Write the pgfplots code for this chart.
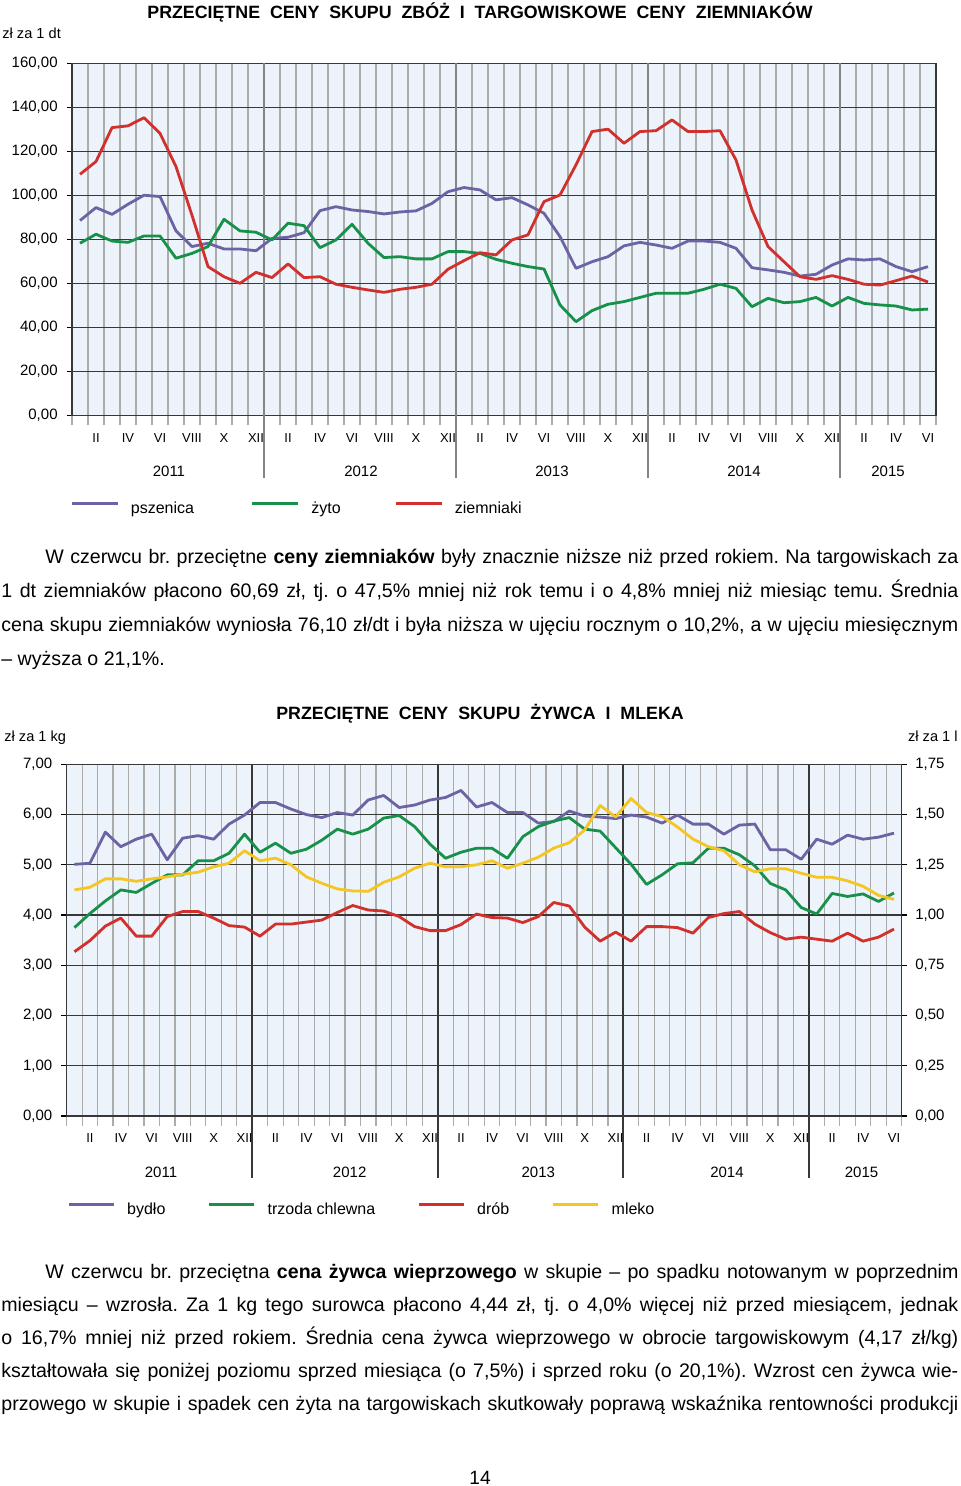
\documentclass[border=0pt]{standalone}
\usepackage{fontspec}
\setmainfont{Liberation Sans}
\setsansfont{Liberation Sans}
\usepackage{pgfplots}
\usepackage{pgfplotstable}
\pgfplotsset{compat=1.18}
\frenchspacing

\definecolor{bgblue}{HTML}{EDF3FA}
\definecolor{cpurple}{HTML}{6C63A5}
\definecolor{cgreen}{HTML}{17914A}
\definecolor{cred}{HTML}{D1302C}
\definecolor{cyellow}{HTML}{F3C623}
\definecolor{gridk}{HTML}{383838}
\definecolor{gridv}{HTML}{ABABAB}
\definecolor{yeargray}{HTML}{858585}

\newcommand\sz[1]{\fontsize{#1}{#1}\selectfont}

% ceny zboz i ziemniakow, zl za 1 dt, I 2011 - VI 2015
\pgfplotstableread{
m psz zyto ziem
0 88.6 78.3 109.6
1 94.5 82.4 115.4
2 91.4 79.3 130.8
3 96.0 78.7 131.6
4 100.1 81.6 135.3
5 99.5 81.6 128.2
6 83.9 71.5 113.1
7 76.8 73.7 91.0
8 78.3 76.8 67.7
9 75.7 89.2 63.1
10 75.7 83.9 60.1
11 74.9 83.3 65.1
12 80.5 79.8 62.7
13 81.0 87.4 68.9
14 83.1 86.3 62.7
15 93.1 76.3 63.1
16 94.9 79.8 59.7
17 93.4 86.9 58.3
18 92.7 78.3 57.1
19 91.6 71.8 56.0
20 92.5 72.2 57.4
21 93.0 71.2 58.3
22 96.4 71.2 59.7
23 101.7 74.5 66.5
24 103.6 74.5 70.4
25 102.5 73.7 74.0
26 98.0 71.0 73.0
27 99.0 69.2 79.8
28 95.7 67.7 82.1
29 91.9 66.6 97.2
30 81.3 50.3 100.2
31 66.9 42.7 113.9
32 69.9 47.7 129.0
33 72.2 50.6 130.1
34 77.1 51.8 123.7
35 78.7 53.7 129.0
36 77.5 55.6 129.4
37 76.0 55.6 134.3
38 79.3 55.6 129.0
39 79.3 57.4 129.0
40 78.7 59.7 129.4
41 76.0 57.8 116.1
42 67.2 49.5 93.4
43 66.2 53.3 76.8
44 65.1 51.3 69.9
45 63.4 51.8 63.1
46 64.2 53.7 61.9
47 68.4 49.8 63.6
48 71.2 53.7 61.9
49 70.7 51.0 59.7
50 71.2 50.3 59.3
51 67.7 49.8 61.3
52 65.4 48.0 63.4
53 67.7 48.4 60.7
}\zboza

% zywiec (zl za 1 kg) i mleko (zl za 1 l, prawa os)
\pgfplotstableread{
m byd trz drob mle
0 5.01 3.75 3.27 1.125
1 5.03 4.03 3.49 1.138
2 5.65 4.28 3.78 1.180
3 5.36 4.50 3.94 1.180
4 5.51 4.45 3.58 1.168
5 5.61 4.63 3.58 1.180
6 5.10 4.80 3.97 1.190
7 5.53 4.80 4.07 1.203
8 5.58 5.08 4.07 1.213
9 5.51 5.08 3.94 1.240
10 5.81 5.23 3.79 1.258
11 5.99 5.61 3.76 1.320
12 6.24 5.25 3.58 1.270
13 6.24 5.43 3.82 1.283
14 6.11 5.23 3.82 1.250
15 6.00 5.31 3.86 1.190
16 5.94 5.49 3.90 1.158
17 6.04 5.71 4.05 1.130
18 5.99 5.61 4.19 1.120
19 6.29 5.71 4.10 1.118
20 6.38 5.93 4.08 1.163
21 6.14 5.98 3.97 1.190
22 6.19 5.76 3.77 1.233
23 6.29 5.41 3.69 1.258
24 6.34 5.13 3.69 1.240
25 6.48 5.25 3.81 1.240
26 6.15 5.33 4.02 1.250
27 6.24 5.33 3.95 1.270
28 6.04 5.13 3.94 1.233
29 6.04 5.56 3.85 1.258
30 5.83 5.76 3.97 1.288
31 5.86 5.87 4.25 1.333
32 6.07 5.94 4.18 1.360
33 5.97 5.71 3.76 1.423
34 5.95 5.67 3.48 1.545
35 5.92 5.34 3.66 1.488
36 5.99 5.01 3.48 1.580
37 5.95 4.61 3.77 1.510
38 5.83 4.80 3.77 1.490
39 5.99 5.02 3.75 1.438
40 5.81 5.04 3.64 1.378
41 5.81 5.33 3.95 1.340
42 5.61 5.33 4.03 1.320
43 5.79 5.20 4.07 1.250
44 5.81 4.98 3.82 1.215
45 5.30 4.63 3.65 1.230
46 5.30 4.50 3.52 1.230
47 5.11 4.15 3.56 1.208
48 5.51 4.02 3.52 1.188
49 5.41 4.43 3.48 1.188
50 5.59 4.37 3.64 1.170
51 5.51 4.42 3.48 1.143
52 5.55 4.27 3.56 1.098
53 5.63 4.44 3.72 1.078
}\zywiec

\tikzset{yearlab/.style={font=\sz{7.5}}}

\pgfplotsset{
  base/.style={
    scale only axis, anchor=south west, clip=false,
    xmin=-0.5, xmax=53.5,
    axis background/.style={fill=bgblue},
    xtick={1,3,...,53},
    xticklabels={II,IV,VI,VIII,X,XII,II,IV,VI,VIII,X,XII,II,IV,VI,VIII,X,XII,II,IV,VI,VIII,X,XII,II,IV,VI},
    minor xtick={-0.5,0.5,...,53.5},
    xminorgrids, ymajorgrids,
    minor grid style={gridv, line width=0.6pt},
    major grid style={gridk, line width=0.6pt},
    tick align=outside, major tick length=2.7pt, minor tick length=4.8pt,
    major x tick style={draw=none},
    minor x tick style={gridv, line width=0.6pt},
    ytick style={black, line width=0.6pt},
    xtick pos=bottom, ytick pos=left,
    axis line style={gridk, line width=0.7pt},
    tick label style={font=\sz{7.5}},
    xticklabel style={font=\sz{6.5}, inner sep=0pt, yshift=-5.8pt},
    yticklabel style={inner sep=0pt, xshift=-4.3pt,
      /pgf/number format/fixed, /pgf/number format/fixed zerofill,
      /pgf/number format/precision=2, /pgf/number format/use comma,
      /pgf/number format/assume math mode=true},
    scaled y ticks=false,
    legend style={draw=none, fill=none, inner sep=0pt, outer sep=0pt,
      nodes={inner sep=0pt, outer sep=0pt}, column sep=0pt, font=\sz{8}},
    legend cell align=left,
  },
  psz/.style={cpurple, line width=1.4pt, line join=round},
  zyt/.style={cgreen, line width=1.4pt, line join=round},
  zie/.style={cred, line width=1.4pt, line join=round},
  mlk/.style={cyellow, line width=1.4pt, line join=round},
}

\begin{document}
\begin{tikzpicture}
\useasboundingbox (0,0) rectangle (480pt,-743pt);

\node[anchor=base, font=\bfseries\sz{8.9}] at (240pt,-9.2pt)
  {PRZECIĘTNE\ \ CENY\ \ SKUPU\ \ ZBÓŻ\ \ I\ \ TARGOWISKOWE\ \ CENY\ \ ZIEMNIAKÓW};
\node[anchor=base west, font=\sz{7.3}, inner sep=0pt] at (1pt,-19.5pt) {zł za 1 dt};

\begin{axis}[base,
  width=432pt, height=176.2pt, at={(36pt,-207.85pt)},
  ymin=0, ymax=160, ytick={0,20,...,160},
  extra x ticks={11.5,23.5,35.5,47.5}, extra x tick labels={},
  extra x tick style={grid=major, major grid style={yeargray, line width=0.8pt}},
  legend columns=3,
  legend style={at={(0,-0.265)}, anchor=west, xshift=-1pt},
  legend image code/.code={\draw[#1, line width=1.5pt] (0pt,0.26em) -- (23pt,0.26em); \path (29pt,0pt);},
]
\addplot[psz] table[x=m, y=psz] {\zboza};
\addlegendentry{\makebox[59.8pt][l]{pszenica}}
\addplot[zyt] table[x=m, y=zyto] {\zboza};
\addlegendentry{\makebox[41.3pt][l]{żyto}}
\addplot[zie] table[x=m, y=ziem] {\zboza};
\addlegendentry{ziemniaki}
\pgfplotsinvokeforeach{11.5,23.5,35.5,47.5}{
  \draw[yeargray, line width=0.8pt] (axis cs:#1,0) -- (axis cs:#1,-28.2);
}
\node[yearlab] at (axis cs:5.56,-25.1) {2011};
\node[yearlab] at (axis cs:17.56,-25.1) {2012};
\node[yearlab] at (axis cs:29.5,-25.1) {2013};
\node[yearlab] at (axis cs:41.5,-25.4) {2014};
\node[yearlab] at (axis cs:50.5,-25.4) {2015};
\end{axis}

\node[anchor=base west, inner sep=0pt] at (0.5pt,-281.5pt) {\parbox[t]{478.5pt}{\fontsize{9.8}{17}\selectfont
\makebox[478.5pt][s]{\hspace*{22pt}W czerwcu br. przeciętne \textbf{ceny ziemniaków} były znacznie niższe niż przed rokiem. Na targowiskach za}\\
\makebox[478.5pt][s]{1 dt ziemniaków płacono 60,69 zł, tj. o 47,5\% mniej niż rok temu i o 4,8\% mniej niż miesiąc temu. Średnia}\\
\makebox[478.5pt][s]{cena skupu ziemniaków wyniosła 76,10 zł/dt i była niższa w ujęciu rocznym o 10,2\%, a w ujęciu miesięcznym}\\
– wyższa o 21,1\%.}};

\node[anchor=base, font=\bfseries\sz{8.9}] at (240pt,-359.7pt)
  {PRZECIĘTNE\ \ CENY\ \ SKUPU\ \ ŻYWCA\ \ I\ \ MLEKA};
\node[anchor=base west, font=\sz{7.3}, inner sep=0pt] at (2pt,-370.5pt) {zł za 1 kg};
\node[anchor=base east, font=\sz{7.3}, inner sep=0pt] at (479pt,-370.5pt) {zł za 1 l};

\begin{axis}[base,
  width=417.5pt, height=175.85pt, at={(33.35pt,-558pt)},
  ymin=0, ymax=7, ytick={0,1,...,7},
  extra x ticks={11.5,23.5,35.5,47.5}, extra x tick labels={},
  extra x tick style={grid=major, major grid style={gridk, line width=0.9pt}},
  legend columns=4,
  legend style={at={(0,-0.267)}, anchor=west, xshift=0.3pt},
  legend image code/.code={\draw[#1, line width=1.5pt] (0pt,0.26em) -- (22.5pt,0.26em); \path (28.5pt,0pt);},
]
\addplot[psz] table[x=m, y=byd] {\zywiec};
\addlegendentry{\makebox[40.3pt][l]{bydło}}
\addplot[zyt] table[x=m, y=trz] {\zywiec};
\addlegendentry{\makebox[74.8pt][l]{trzoda chlewna}}
\addplot[zie] table[x=m, y=drob] {\zywiec};
\addlegendentry{\makebox[37.3pt][l]{drób}}
\addlegendimage{mlk}
\addlegendentry{mleko}
\pgfplotsinvokeforeach{11.5,23.5,35.5,47.5}{
  \draw[gridk, line width=0.9pt] (axis cs:#1,0) -- (axis cs:#1,-1.234);
}
\node[yearlab] at (axis cs:5.6,-1.115) {2011};
\node[yearlab] at (axis cs:17.8,-1.115) {2012};
\node[yearlab] at (axis cs:30.0,-1.115) {2013};
\node[yearlab] at (axis cs:42.2,-1.13) {2014};
\node[yearlab] at (axis cs:50.9,-1.13) {2015};
\end{axis}

\begin{axis}[scale only axis, anchor=south west, clip=false,
  width=417.5pt, height=175.85pt, at={(33.35pt,-558pt)},
  xmin=-0.5, xmax=53.5, ymin=0, ymax=1.75,
  axis x line=none, axis y line*=right,
  ytick={0,0.25,...,1.75},
  tick align=outside, major tick length=2.7pt,
  ytick style={black, line width=0.6pt},
  axis line style={gridk, line width=0.7pt},
  scaled y ticks=false,
  yticklabel style={font=\sz{7.5}, inner sep=0pt, xshift=3.9pt,
    /pgf/number format/fixed, /pgf/number format/fixed zerofill,
    /pgf/number format/precision=2, /pgf/number format/use comma,
    /pgf/number format/assume math mode=true},
]
\addplot[mlk] table[x=m, y=mle] {\zywiec};
\end{axis}

\node[anchor=base west, inner sep=0pt] at (0.5pt,-639pt) {\parbox[t]{478.5pt}{\fontsize{9.8}{16.5}\selectfont
\makebox[478.5pt][s]{\hspace*{22pt}W czerwcu br. przeciętna \textbf{cena żywca wieprzowego} w skupie – po spadku notowanym w poprzednim}\\
\makebox[478.5pt][s]{miesiącu – wzrosła. Za 1 kg tego surowca płacono 4,44 zł, tj. o 4,0\% więcej niż przed miesiącem, jednak}\\
\makebox[478.5pt][s]{o 16,7\% mniej niż przed rokiem. Średnia cena żywca wieprzowego w obrocie targowiskowym (4,17 zł/kg)}\\
\makebox[478.5pt][s]{kształtowała się poniżej poziomu sprzed miesiąca (o 7,5\%) i sprzed roku (o 20,1\%). Wzrost cen żywca wie-}\\
\makebox[478.5pt][s]{przowego w skupie i spadek cen żyta na targowiskach skutkowały poprawą wskaźnika rentowności produkcji}}};

\node[anchor=base, font=\sz{9.6}] at (240pt,-742pt) {14};
\end{tikzpicture}
\end{document}
